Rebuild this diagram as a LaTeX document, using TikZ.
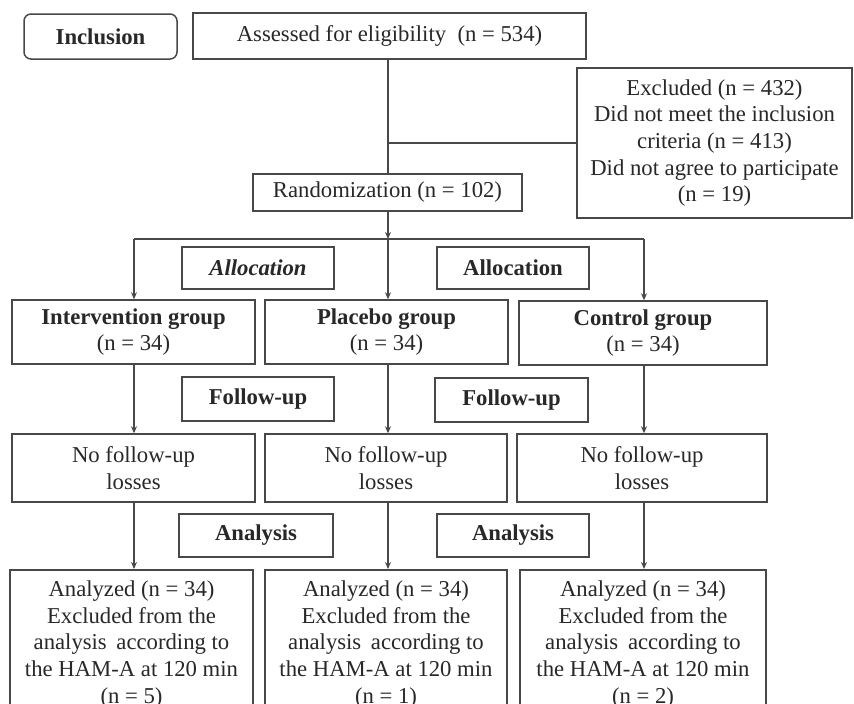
\documentclass[tikz,border=0pt]{standalone}
\usepackage{fontspec}
\setmainfont{Liberation Serif}
\usetikzlibrary{arrows.meta}
\definecolor{linec}{RGB}{72,72,72}
\definecolor{textc}{RGB}{40,40,40}
\tikzset{
  bx/.style={draw=linec, line width=1.5pt, text=textc, inner sep=0pt, align=center,
             font=\fontsize{22.7}{26.7}\selectfont},
  lbl/.style={bx, font=\fontsize{22.7}{26.7}\selectfont\bfseries},
  conn/.style={draw=linec, line width=1.3pt},
  arr/.style={conn, -{Stealth[length=7pt,width=6pt]}},
}
\begin{document}
\begin{tikzpicture}[x=1pt,y=-1pt]
\useasboundingbox (0,0) rectangle (854,704);
\clip (0,0) rectangle (854,704);
\fill[white] (0,0) rectangle (854,704);

% top
\node[lbl, rounded corners=7pt, minimum width=153pt, minimum height=45pt] (incl) at (100.5,36.5) {Inclusion};
\node[bx, minimum width=393pt, minimum height=46pt] (assess) at (389.5,36) {Assessed for eligibility\ \ (n = 534)};
\node[bx, minimum width=275pt, minimum height=150pt] (excl) at (714.5,143) {Excluded (n = 432)\\Did not meet the inclusion\\criteria (n = 413)\\Did not agree to participate\\(n = 19)};
\node[bx, minimum width=269pt, minimum height=37pt] (rand) at (387.5,192.5) {Randomization (n = 102)};

\coordinate (br) at (388,143);
\coordinate (jc) at (388,239);
\coordinate (jl) at (134,239);
\coordinate (jr) at (644,239);

% labels
\node[lbl, minimum width=152pt, minimum height=42pt] (alloc1) at (258,268) {\textit{Allocation}};
\node[lbl, minimum width=152pt, minimum height=42pt] (alloc2) at (513,268) {Allocation};
\node[lbl, minimum width=152pt, minimum height=44pt] (fu1) at (258,399) {Follow-up};
\node[lbl, minimum width=153pt, minimum height=44pt] (fu2) at (511.5,400) {Follow-up};
\node[lbl, minimum width=154pt, minimum height=43pt] (an1) at (256,535.5) {Analysis};
\node[lbl, minimum width=152pt, minimum height=43pt] (an2) at (513,535.5) {Analysis};

% groups
\node[bx, minimum width=243pt, minimum height=64pt] (interv) at (133.5,332) {\textbf{Intervention group}\\(n = 34)};
\node[bx, minimum width=243pt, minimum height=64pt] (plac) at (386.5,332) {\textbf{Placebo group}\\(n = 34)};
\node[bx, minimum width=248pt, minimum height=64pt] (ctrl) at (643,333) {\textbf{Control group}\\(n = 34)};

% follow-up
\node[bx, minimum width=243pt, minimum height=68pt] (nf1) at (133.5,468) {No follow-up\\losses};
\node[bx, minimum width=242pt, minimum height=68pt] (nf2) at (386,468) {No follow-up\\losses};
\node[bx, minimum width=250pt, minimum height=68pt] (nf3) at (642,468) {No follow-up\\losses};

% analyzed
\node[bx, anchor=north, minimum width=243pt, inner ysep=11pt] (az1) at (131.5,569) {Analyzed (n = 34)\\Excluded from the\\analysis\hspace{4pt} according to\\the HAM-A at 120 min\\(n = 5)};
\node[bx, anchor=north, minimum width=242pt, inner ysep=11pt] (az2) at (386,569) {Analyzed (n = 34)\\Excluded from the\\analysis\hspace{4pt} according to\\the HAM-A at 120 min\\(n = 1)};
\node[bx, anchor=north, minimum width=246pt, inner ysep=11pt] (az3) at (643,569) {Analyzed (n = 34)\\Excluded from the\\analysis\hspace{4pt} according to\\the HAM-A at 120 min\\(n = 2)};

% connectors
\draw[conn] (assess.south -| br) -- (rand.north -| br);
\draw[conn] (br) -- (br -| excl.west);
\draw[arr] (rand.south -| jc) -- (jc);
\draw[conn] (jl) -- (jr);
\draw[arr] (jl) -- (jl |- interv.north);
\draw[arr] (jc) -- (jc |- plac.north);
\draw[arr] (jr) -- (jr |- ctrl.north);

\draw[arr] (interv.south -| jl) -- (nf1.north -| jl);
\draw[arr] (plac.south -| jc) -- (nf2.north -| jc);
\draw[arr] (ctrl.south -| jr) -- (nf3.north -| jr);

\draw[arr] (nf1.south -| jl) -- (az1.north -| jl);
\draw[arr] (nf2.south -| jc) -- (az2.north -| jc);
\draw[arr] (nf3.south -| jr) -- (az3.north -| jr);
\end{tikzpicture}
\end{document}
